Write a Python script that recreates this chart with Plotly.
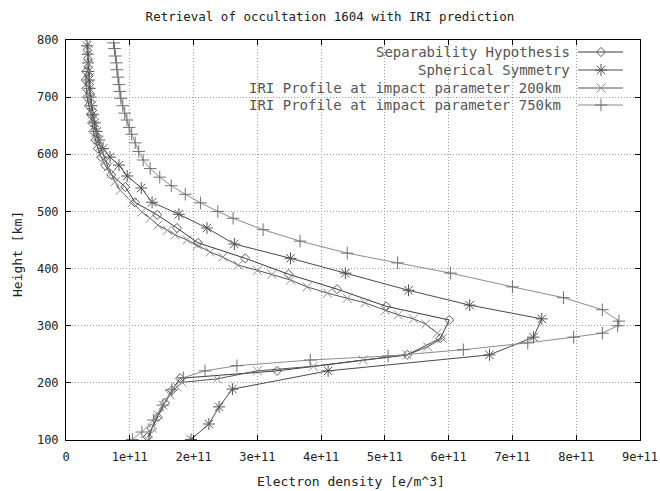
import plotly.graph_objects as go

# ---------------- data (electron density in units of 1e11 e/m^3, height in km)
SCALE = 1e11

sep_h = [745, 730, 715, 700, 685, 670, 655, 640, 625, 610, 595, 580, 564, 543, 516, 494,
         471, 445, 418, 390, 364, 334, 310, 278, 249, 221, 208, 187, 165, 140, 120, 105]
sep_x = [0.32, 0.31, 0.32, 0.33, 0.36, 0.39, 0.41, 0.43, 0.46, 0.50, 0.55, 0.62, 0.71, 0.93, 1.08, 1.43,
         1.74, 2.07, 2.81, 3.49, 4.25, 5.02, 6.01, 5.87, 5.35, 3.31, 1.79, 1.66, 1.55, 1.44, 1.34, 1.28]

sph_h = [790, 775, 760, 745, 730, 715, 700, 685, 670, 655, 640, 625, 610, 595, 581, 562, 541,
         516, 495, 471, 443, 418, 392, 362, 336, 312, 280, 249, 221, 189, 158, 128, 101]
sph_x = [0.33, 0.34, 0.345, 0.35, 0.36, 0.37, 0.38, 0.40, 0.42, 0.45, 0.48, 0.52, 0.58, 0.69, 0.83, 0.96, 1.18,
         1.35, 1.77, 2.21, 2.64, 3.52, 4.38, 5.37, 6.33, 7.46, 7.33, 6.64, 4.11, 2.61, 2.40, 2.24, 1.96]

iri200_h = [795, 782, 770, 758, 746, 734, 722, 710, 698, 686, 674, 662, 650, 638, 626, 614, 602, 590,
            578, 566, 552, 537, 516, 499, 488, 476, 467, 459, 450, 441, 429, 420, 406, 397, 390, 380,
            368, 357, 348, 340, 327, 319, 312, 303, 287, 278, 263, 249, 240, 229, 221, 207, 201, 193,
            179, 161, 144, 121, 100]
iri200_x = [0.34, 0.345, 0.35, 0.355, 0.36, 0.365, 0.37, 0.38, 0.39, 0.40, 0.41, 0.43, 0.45, 0.47, 0.50, 0.53,
            0.57, 0.61, 0.66, 0.71, 0.77, 0.85, 1.04, 1.19, 1.32, 1.44, 1.59, 1.71, 1.90, 2.06, 2.26, 2.46,
            2.70, 3.00, 3.23, 3.52, 3.78, 4.10, 4.41, 4.69, 5.01, 5.21, 5.45, 5.64, 5.82, 5.90, 5.67, 5.35,
            4.66, 3.88, 3.00, 2.37, 1.82, 1.74, 1.63, 1.52, 1.44, 1.35, 1.29]

iri750_h = [795, 785, 772, 760, 748, 735, 722, 710, 698, 685, 672, 660, 647, 635, 620, 605, 590, 575,
            560, 545, 530, 515, 500, 488, 468, 448, 427, 410, 392, 368, 349, 328, 308, 300, 287, 280,
            270, 258, 247, 240, 230, 221, 209, 188, 161, 135, 114, 101]
iri750_x = [0.745, 0.76, 0.775, 0.79, 0.80, 0.815, 0.83, 0.845, 0.86, 0.89, 0.92, 0.955, 0.99, 1.03, 1.085,
            1.14, 1.21, 1.32, 1.47, 1.65, 1.87, 2.11, 2.38, 2.62, 3.09, 3.67, 4.41, 5.20, 6.03, 7.00,
            7.80, 8.41, 8.67, 8.65, 8.41, 7.96, 7.24, 6.23, 5.05, 3.83, 2.68, 2.18, 1.84, 1.66, 1.52,
            1.37, 1.19, 1.04]

series_names = ["Separability Hypothesis", "Spherical Symmetry",
                "IRI Profile at impact parameter 200km", "IRI Profile at impact parameter 750km"]

x_tickvals = [0, 1, 2, 3, 4, 5, 6, 7, 8, 9]
x_ticktext = ["0", "1e+11", "2e+11", "3e+11", "4e+11", "5e+11", "6e+11", "7e+11", "8e+11", "9e+11"]
y_tickvals = [100, 200, 300, 400, 500, 600, 700, 800]

# ---------------- styles
FONT = "DejaVu Sans Mono"
styles = [
    dict(line="#3a3a3a", marker="#5a5a5a", symbol="diamond-open", size=7),
    dict(line="#4a4a4a", marker="#555555", symbol="asterisk-open", size=10),
    dict(line="#555555", marker="#8c8c8c", symbol="x-thin-open", size=9),
    dict(line="#8c8c8c", marker="#707070", symbol="cross-thin-open", size=9),
]

W, H = 660, 491
L, R, T, B = 66, 640, 40, 440

fig = go.Figure()
data = [(sep_x, sep_h), (sph_x, sph_h), (iri200_x, iri200_h), (iri750_x, iri750_h)]
for (xs, hs), name, st in zip(data, series_names, styles):
    fig.add_trace(go.Scatter(
        x=[v * SCALE for v in xs], y=hs, name=name, mode="lines+markers",
        line=dict(color=st["line"], width=1),
        marker=dict(symbol=st["symbol"], size=st["size"], color=st["marker"],
                    line=dict(color=st["marker"], width=1)),
        showlegend=False,
    ))

# ---------------- gnuplot-style key (text on the left, sample on the right)
key_rows = [52, 70, 88, 105]          # pixel rows
key_text_right = [572, 572, 563, 563]
key_line = (578, 623)
key_mark = 601
for row, xr, name, st in zip(key_rows, key_text_right, series_names, styles):
    fig.add_trace(go.Scatter(
        x=[key_line[0], key_line[1]], y=[row, row], mode="lines",
        line=dict(color=st["line"], width=1), xaxis="x2", yaxis="y2",
        showlegend=False, hoverinfo="skip"))
    fig.add_trace(go.Scatter(
        x=[key_mark], y=[row], mode="markers",
        marker=dict(symbol=st["symbol"], size=st["size"], color=st["marker"],
                    line=dict(color=st["marker"], width=1)),
        xaxis="x2", yaxis="y2", showlegend=False, hoverinfo="skip"))
    fig.add_annotation(x=xr, y=row, xref="x2", yref="y2", text=name,
                       showarrow=False, xanchor="right", yanchor="middle",
                       font=dict(family=FONT, size=14, color="#555555"))

axis_common = dict(
    showline=True, linecolor="#000000", linewidth=1, mirror="ticks",
    ticks="inside", ticklen=5, tickcolor="#000000", automargin=False,
    showgrid=True, gridcolor="#9a9a9a", griddash="1px,2px", gridwidth=1,
    zeroline=False, tickfont=dict(family=FONT, size=12, color="#222222"),
)

fig.update_layout(
    width=W, height=H,
    margin=dict(l=L, r=W - R, t=T, b=H - B, pad=0),
    paper_bgcolor="white", plot_bgcolor="white",
    title=dict(text="Retrieval of occultation 1604 with IRI prediction",
               x=0.5, xref="container", xanchor="center",
               y=1 - 17 / H, yref="container", yanchor="middle",
               font=dict(family=FONT, size=12.5, color="#222222")),
    xaxis=dict(range=[0, 9e11], tickvals=[v * SCALE for v in x_tickvals], ticktext=x_ticktext,
               ticklabelstandoff=6, **axis_common),
    yaxis=dict(range=[100, 800], tickvals=y_tickvals, ticklabelstandoff=4, **axis_common),
    xaxis2=dict(range=[L, R], overlaying="x", visible=False, fixedrange=True),
    yaxis2=dict(range=[B, T], overlaying="y", visible=False, fixedrange=True),
    showlegend=False,
)

fig.add_annotation(x=(351 - L) / (R - L), y=(B - 481) / (B - T), xref="paper", yref="paper",
                   text="Electron density [e/m^3]", showarrow=False,
                   xanchor="center", yanchor="middle",
                   font=dict(family=FONT, size=13, color="#222222"))
fig.add_annotation(x=(18 - L) / (R - L), y=(B - 254) / (B - T), xref="paper", yref="paper",
                   text="Height [km]", textangle=-90, showarrow=False,
                   xanchor="center", yanchor="middle",
                   font=dict(family=FONT, size=13, color="#222222"))

fig.write_html("out.html")
